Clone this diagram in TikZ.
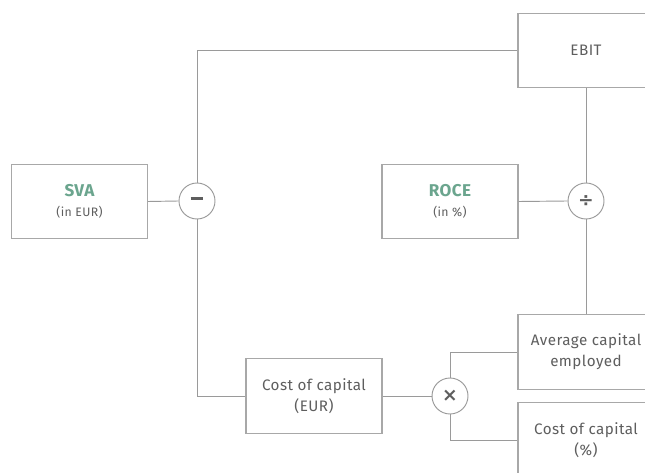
\documentclass[tikz,border=0pt]{standalone}
\usepackage{fontspec}
\setmainfont{Fira Sans}[LetterSpace=3]
\newfontfamily\opfont{DejaVu Sans}
\definecolor{txt}{HTML}{5E5E5E}
\definecolor{ln}{HTML}{9A9A9A}
\definecolor{bx}{HTML}{A8A8A8}
\definecolor{grn}{HTML}{6BA58E}
\begin{document}
\begin{tikzpicture}[x=0.75pt,y=-0.75pt,
  box/.style={draw=bx,line width=0.9pt,fill=white,minimum width=102pt,minimum height=56pt,inner sep=0pt,align=center,text=txt,font=\fontsize{11.4}{16}\selectfont},
  op/.style={draw=ln,line width=0.7pt,fill=white,circle,minimum size=27pt,inner sep=0pt,text=txt,font=\opfont\fontsize{14}{14}\selectfont\bfseries},
  conn/.style={draw=ln,line width=0.7pt}]
\useasboundingbox (0,0) rectangle (645,473);
\clip (0,0) rectangle (645,473);
\fill[white] (0,0) rectangle (645,473);
\node[box] (sva) at (79.5,201.5) {{\fontsize{12.8}{14}\selectfont\bfseries\color{grn}SVA}\\[-1pt]{\fontsize{9.2}{10}\selectfont (in EUR)}};
\node[box] (roce) at (450,201.5) {{\fontsize{12.8}{14}\selectfont\bfseries\color{grn}ROCE}\\[-1pt]{\fontsize{9.2}{10}\selectfont (in \%)}};
\node[box] (ebit) at (586,50.5) {EBIT};
\node[box] (avg) at (586,352) {Average capital\\employed};
\node[box] (costp) at (586,440) {Cost of capital\\(\%)};
\node[box] (coste) at (314,396) {Cost of capital\\(EUR)};
\node[op] (minus) at (197,201) {\rule[3.7pt]{9.5pt}{2.2pt}};
\node[op] (div) at (586,201) {÷};
\node[op] (times) at (450,396) {×};
\draw[conn] (sva.east) -- (minus.west);
\draw[conn] (minus.north) |- (ebit.west);
\draw[conn] (minus.south) |- (coste.west);
\draw[conn] (coste.east) -- (times.west);
\draw[conn] (times.north) |- (avg.west);
\draw[conn] (times.south) |- (costp.west);
\draw[conn] (roce.east) -- (div.west);
\draw[conn] (ebit.south) -- (div.north);
\draw[conn] (div.south) -- (avg.north);
\end{tikzpicture}
\end{document}
